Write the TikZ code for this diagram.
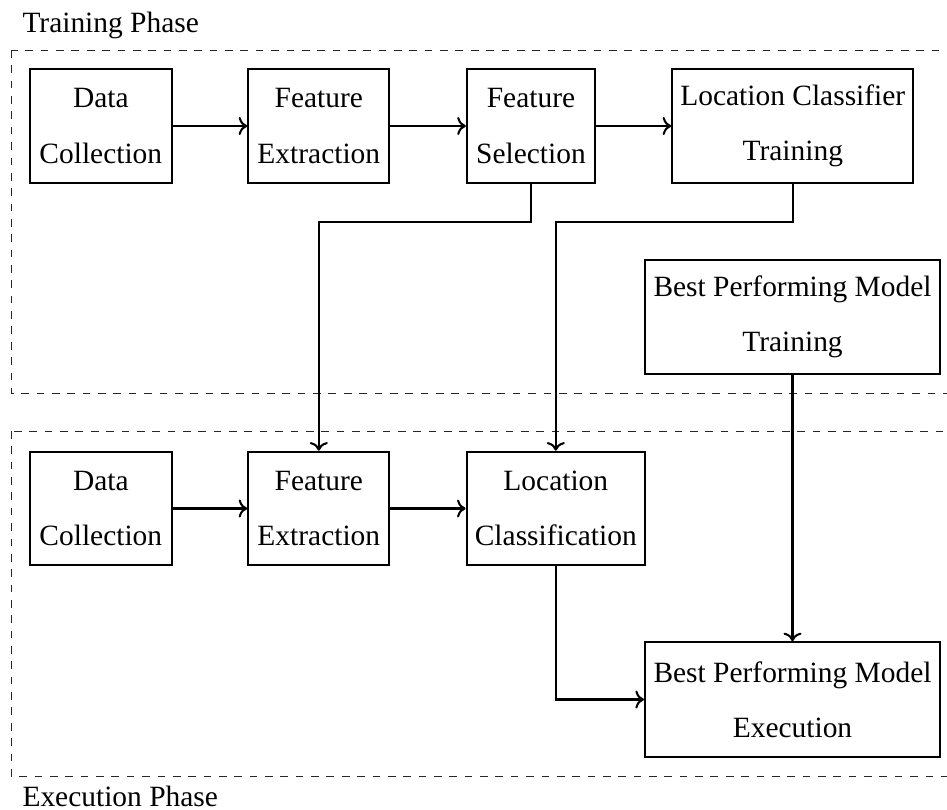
\documentclass[tikz,border=0pt]{standalone}
\usepackage{fontspec}
\setmainfont{Liberation Serif}
\usetikzlibrary{arrows.meta}

\tikzset{
  sz/.style 2 args={minimum width=#1*0.390625pt, minimum height=#2*0.390625pt},
  stagebox/.style={draw, thick, align=center, inner sep=0pt,
    font=\fontsize{11.5}{21.5}\selectfont},
  flow/.style={thick, ->},
  phasebox/.style={draw, dashed, line width=0.3pt, draw=black!85},
  phaselabel/.style={inner sep=0pt, font=\fontsize{11.5}{13.5}\selectfont}
}

\begin{document}
\begin{tikzpicture}[x=0.390625pt, y=-0.390625pt]
  \useasboundingbox (0,0) rectangle (947,810);
  \clip (0,0) rectangle (947,810);

  % phase frames (open to the right)
  \draw[phasebox] (11,50) rectangle (1000,393);
  \draw[phasebox] (11,431) rectangle (1000,776);
  \node[phaselabel, anchor=base west] (trainlbl) at (22,32.3) {Training Phase};
  \node[phaselabel, anchor=base west] (execlbl) at (22,806.5) {Execution Phase};

  % training phase stages
  \node[stagebox, sz={141.7}{113.4}] (dc1) at (100.8,126) {Data\\Collection};
  \node[stagebox, sz={141}{113.4}] (fe1) at (318.8,126) {Feature\\Extraction};
  \node[stagebox, sz={128.3}{113.4}] (fs1) at (531,126) {Feature\\Selection};
  \node[stagebox, sz={241}{113.4}] (lct) at (792.8,126) {Location Classifier\\Training};
  \node[stagebox, sz={295}{114}] (bmt) at (792.5,317) {Best Performing Model\\Training};

  % execution phase stages
  \node[stagebox, sz={141.7}{113.6}] (dc2) at (100.8,508.5) {Data\\Collection};
  \node[stagebox, sz={141}{113.6}] (fe2) at (318.8,508.5) {Feature\\Extraction};
  \node[stagebox, sz={178.3}{113.6}] (lc) at (555.8,508.5) {Location\\Classification};
  \node[stagebox, sz={295}{114.4}] (bme) at (792.5,699.5) {Best Performing Model\\Execution};

  \coordinate (jy) at (0,221.7);

  % training flow
  \draw[flow] (dc1) -- (fe1);
  \draw[flow] (fe1) -- (fs1);
  \draw[flow] (fs1) -- (lct);

  % cross-phase links
  \draw[flow] (fs1.south) -- (fs1.south |- jy) -| (fe2.north);
  \draw[flow] (lct.south) -- (lct.south |- jy) -| (lc.north);
  \draw[flow] (bmt.south) -- (bme.north);

  % execution flow
  \draw[flow] (dc2) -- (fe2);
  \draw[flow] (fe2) -- (lc);
  \draw[flow] (lc.south) |- (bme.west);
\end{tikzpicture}
\end{document}
